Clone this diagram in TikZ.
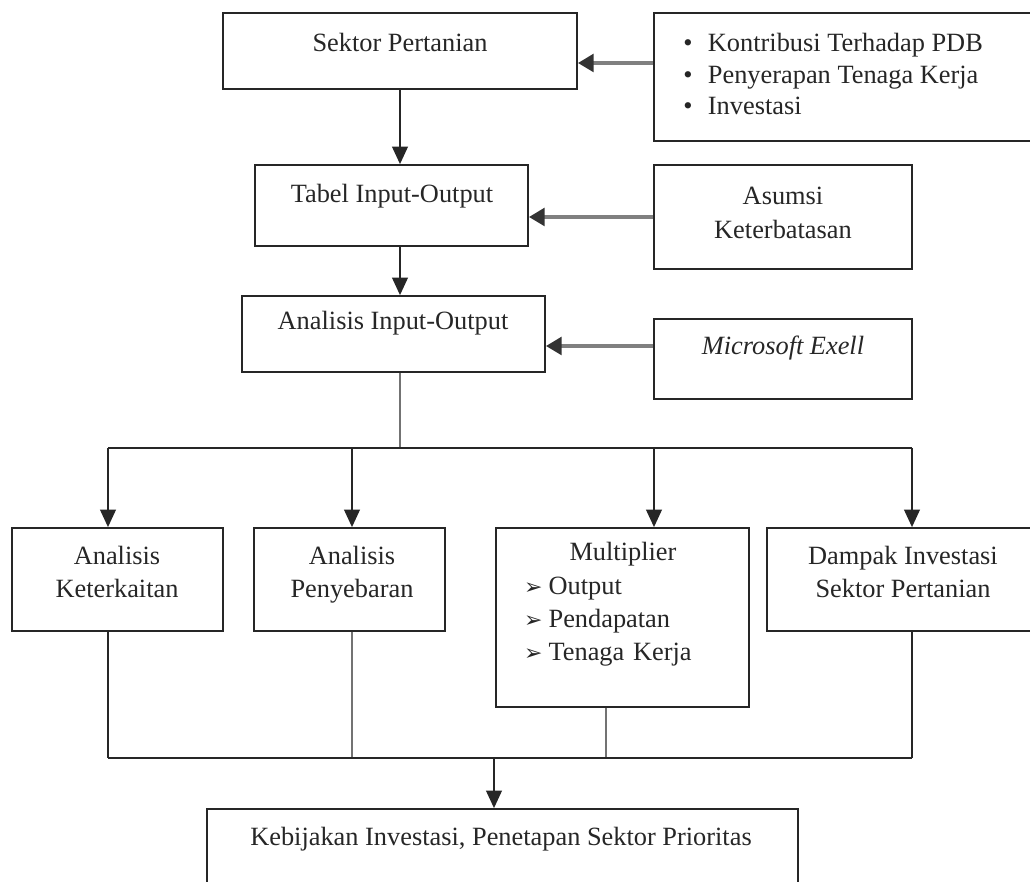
\documentclass[tikz,border=0pt]{standalone}
\usepackage{fontspec}
\setmainfont{Liberation Serif}
\newfontfamily\symfont{DejaVu Sans}
\usetikzlibrary{arrows.meta,positioning}
\tikzset{
    block/.style={
    rectangle,draw=black!85,line width=1pt,inner sep=0pt
    },
    txt/.style={
    inner sep=0pt,align=center,text=black!85,font=\fontsize{15}{19}\selectfont
    },
    flow/.style={
    draw=black!85,line width=1pt,-{Triangle[length=10pt,width=9pt]}
    },
    feed/.style={
    draw=black!50,line width=2.2pt,-{Triangle[length=9pt,width=10pt,color=black!80]}
    },
    link/.style={
    draw=black!85,line width=1pt
    },
    thinlink/.style={
    draw=black!55,line width=0.6pt
    },
}
\newcommand{\arrmark}{\makebox[14pt][l]{\symfont\fontsize{12.5}{12.5}\selectfont ➢}}

\begin{document}
\begin{tikzpicture}[x=0.2mm, y=-0.2mm]
  \useasboundingbox (0,0) rectangle (1030,882);
  \clip (0,0) rectangle (1030,882);

  \node[block,minimum width=70.8mm,minimum height=15.2mm] (sektor) at (400,51) {};
  \node[block,minimum width=77.2mm,minimum height=25.6mm] (faktor) at (847,77) {};
  \node[block,minimum width=54.6mm,minimum height=16.2mm] (tabel) at (391.5,205.5) {};
  \node[block,minimum width=51.6mm,minimum height=20.8mm] (asumsi) at (783,217) {};
  \node[block,minimum width=60.6mm,minimum height=15.2mm] (aio) at (393.5,334) {};
  \node[block,minimum width=51.6mm,minimum height=16mm] (excel) at (783,359) {};
  \node[block,minimum width=42.2mm,minimum height=20.6mm] (kait) at (117.5,579.5) {};
  \node[block,minimum width=38.2mm,minimum height=20.6mm] (sebar) at (349.5,579.5) {};
  \node[block,minimum width=50.6mm,minimum height=35.8mm] (multi) at (622.5,617.5) {};
  \node[block,minimum width=54.4mm,minimum height=20.6mm] (dampak) at (903,579.5) {};
  \node[block,minimum width=118.2mm,minimum height=16.4mm] (kebijakan) at (502.5,850) {};

  \node[txt] (sektorT) at (400,42) {Sektor Pertanian};
  \node[txt,align=left,anchor=west,font=\fontsize{15}{18}\selectfont] (faktorT) at (683,74)
    {\makebox[14pt][l]{\textbullet}Kontribusi Terhadap PDB\\
     \makebox[14pt][l]{\textbullet}Penyerapan Tenaga Kerja\\
     \makebox[14pt][l]{\textbullet}Investasi};
  \node[txt] (tabelT) at (392,196) {Tabel Input-Output};
  \node[txt] (asumsiT) at (783,213) {Asumsi\\Keterbatasan};
  \node[txt] (aioT) at (393,323) {Analisis Input-Output};
  \node[txt] (excelT) at (783,348) {\itshape Microsoft Exell};
  \node[txt] (kaitT) at (117,572) {Analisis\\Keterkaitan};
  \node[txt] (sebarT) at (352,575) {Analisis\\Penyebaran};
  \node[txt,align=left,text width=39.6mm] (multiT) at (623,604.5)
    {\makebox[\hsize][c]{Multiplier}\\
     \arrmark Output\\
     \arrmark Pendapatan\\
     \arrmark Tenaga Kerja};
  \node[txt] (dampakT) at (903,572) {Dampak Investasi\\Sektor Pertanian};
  \node[txt] (kebijakanT) at (501,839) {Kebijakan Investasi, Penetapan Sektor Prioritas};

  \coordinate (split) at (400,448);
  \coordinate (b1) at (108,448);
  \coordinate (b2) at (352,448);
  \coordinate (b3) at (654,448);
  \coordinate (b4) at (912,448);
  \coordinate (m1) at (108,758);
  \coordinate (m2) at (352,758);
  \coordinate (m3) at (606,758);
  \coordinate (m4) at (912,758);
  \coordinate (join) at (494,758);

  \path
    (sektor.south) edge [flow] (sektor.south |- tabel.north)
    (sektor.south |- tabel.south) edge [flow] (sektor.south |- aio.north)
    ([yshift=2.8mm]faktor.west) edge [feed] ([yshift=2.8mm]faktor.west -| sektor.east)
    (asumsi.west) edge [feed] (asumsi.west -| tabel.east)
    ([yshift=2.6mm]excel.west) edge [feed] ([yshift=2.6mm]excel.west -| aio.east)
    (split |- aio.south) edge [thinlink] (split)
    (b1) edge [link] (b4)
    (b1) edge [flow] (b1 |- kait.north)
    (b2) edge [flow] (b2 |- sebar.north)
    (b3) edge [flow] (b3 |- multi.north)
    (b4) edge [flow] (b4 |- dampak.north)
    (m1 |- kait.south) edge [link] (m1)
    (m2 |- sebar.south) edge [thinlink] (m2)
    (m3 |- multi.south) edge [thinlink] (m3)
    (m4 |- dampak.south) edge [link] (m4)
    (m1) edge [link] (m4)
    (join) edge [flow] (join |- kebijakan.north);

\end{tikzpicture}
\end{document}
